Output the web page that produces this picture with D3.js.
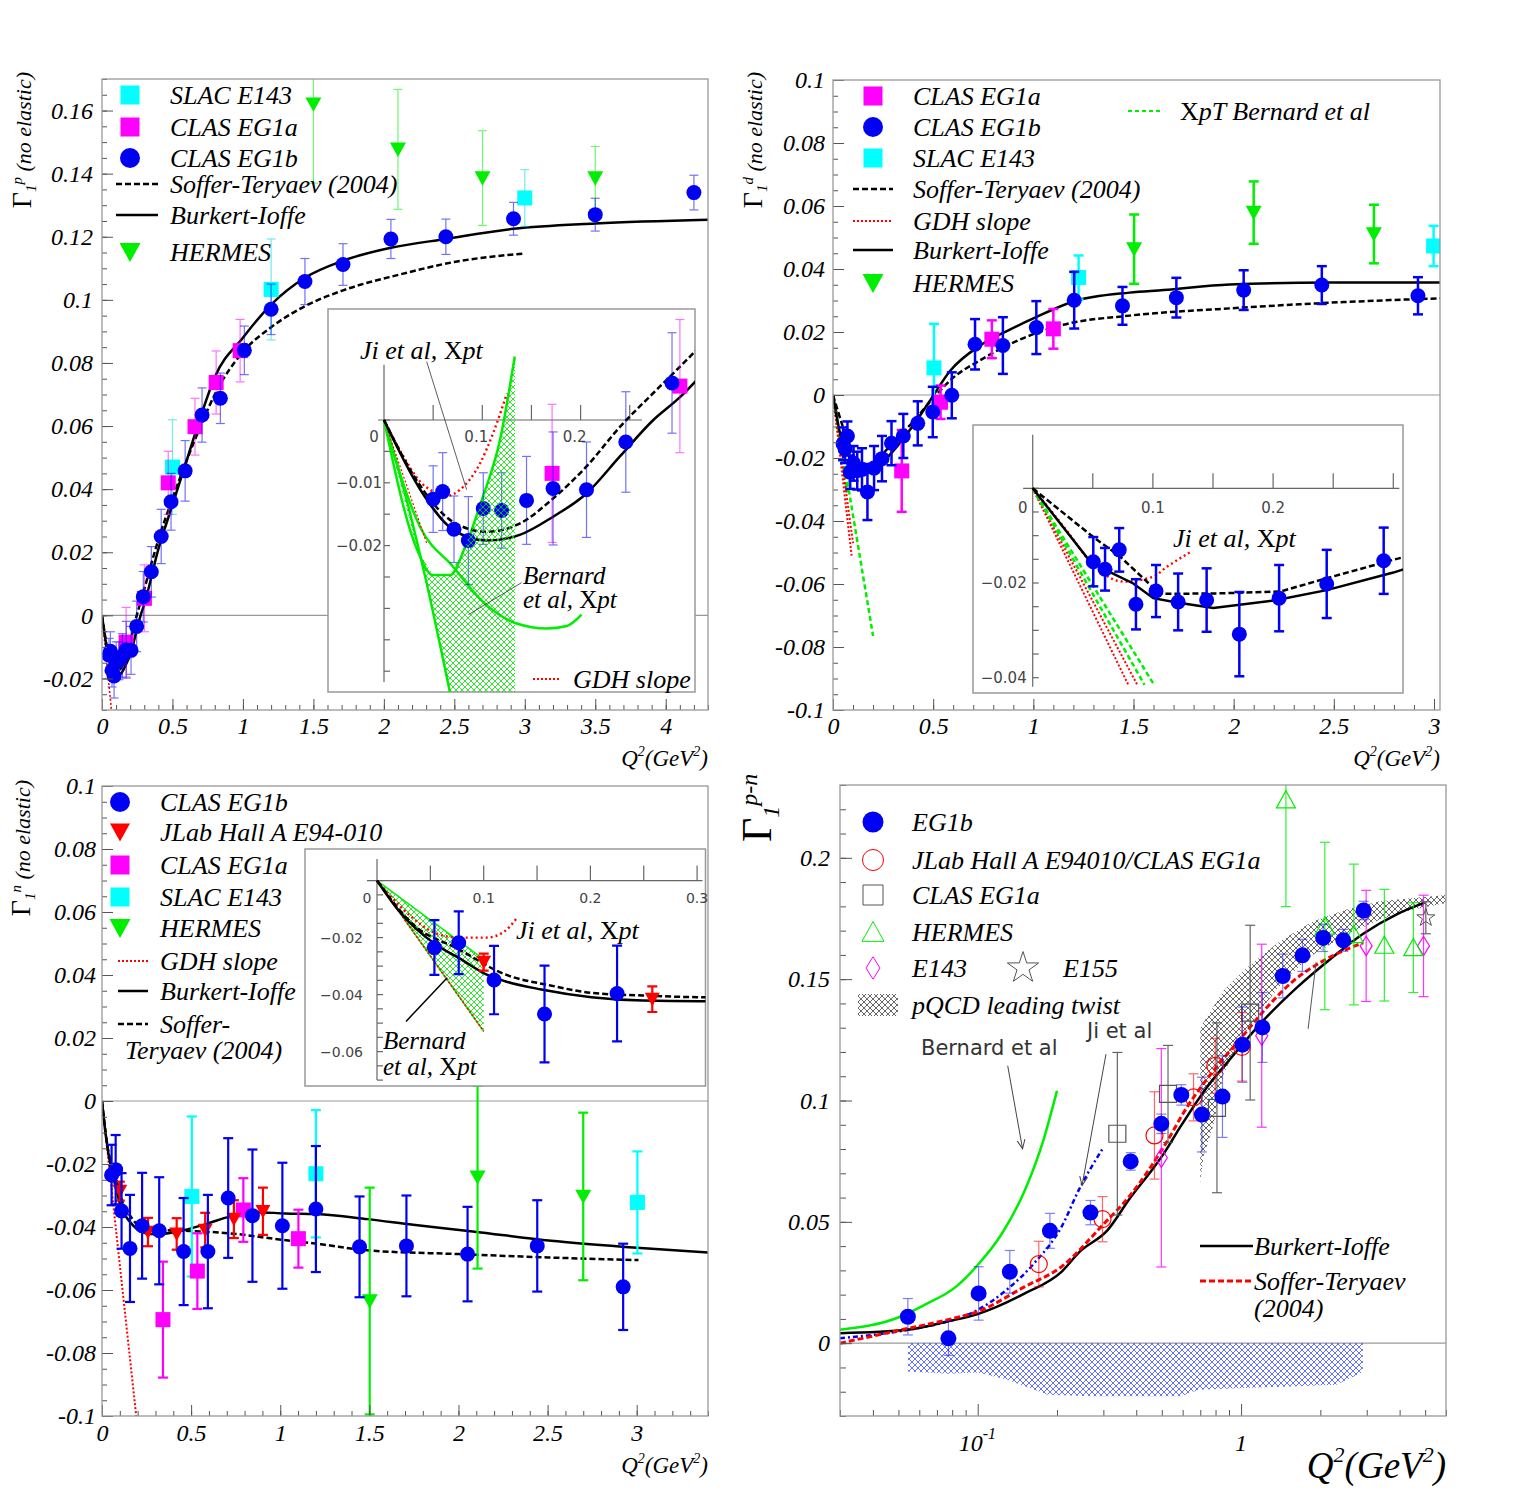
<!DOCTYPE html>
<html>
<head>
<meta charset="utf-8" />
<title>Gamma1 moments vs Q2</title>
<script src="https://d3js.org/d3.v7.min.js" charset="utf-8"></script>
<style>
  body { margin: 0; background: #fff; }
  svg text { font-family: "Liberation Serif", "Times New Roman", serif; fill: #000; }
  svg text.sans { font-family: "DejaVu Sans", "Liberation Sans", sans-serif; }
</style>
</head>
<body>
<svg id="chart" width="1525" height="1495"></svg>
<script>

// ================= data =================
// every point: [Q2 (GeV2), value, error]

// ---- proton (top left) ----
var pEG1b = [[0.050,-0.0126,0.0053],[0.0597,-0.0114,0.0062],[0.0712,-0.0174,0.0053],[0.0858,-0.0192,0.007],
  [0.101,-0.0141,0.0057],[0.1197,-0.0144,0.006],[0.145,-0.0128,0.007],[0.172,-0.0109,0.009],[0.206,-0.0111,0.0076],
  [0.246,-0.0035,0.008],[0.293,0.0059,0.008],[0.35,0.0138,0.008],[0.42,0.025,0.0086],[0.49,0.036,0.009],
  [0.59,0.0458,0.0096],[0.71,0.0635,0.0086],[0.84,0.0688,0.008],[1.01,0.084,0.0077],[1.2,0.097,0.008],
  [1.44,0.1058,0.0073],[1.71,0.1112,0.0066],[2.05,0.1193,0.0062],[2.44,0.12,0.0056],[2.92,0.1257,0.0052],
  [3.5,0.127,0.0052],[4.2,0.134,0.0055]];
var pEG1a = [[0.171,-0.0085,0.011],[0.301,0.0054,0.0106],[0.47,0.042,0.01],[0.66,0.0598,0.009],[0.81,0.0738,0.01],[0.98,0.0839,0.0099]];
var pSLAC = [[0.5,0.047,0.015],[1.2,0.1033,0.016],[3.0,0.1323,0.009]];
var pHERMES = [[1.5,0.162,0.025],[2.1,0.1477,0.019],[2.7,0.1386,0.015],[3.5,0.1386,0.010]];
var pBI = [[0,0],[0.037,-0.0111],[0.0705,-0.0175],[0.1045,-0.0192],[0.138,-0.0183],[0.172,-0.0154],[0.206,-0.0117],
  [0.24,-0.0058],[0.274,0],[0.298,0.0032],[0.4,0.021],[0.5,0.035],[0.6,0.049],[0.7,0.063],[0.8,0.0755],[1.0,0.088],
  [1.2,0.0985],[1.44,0.107],[1.71,0.1124],[2.05,0.1165],[2.44,0.1193],[2.92,0.1225],[3.5,0.1242],[4.3,0.1254]];
var pST = [[0,0],[0.0366,-0.0104],[0.070,-0.0162],[0.1045,-0.0178],[0.138,-0.0165],[0.172,-0.0125],[0.206,-0.0074],
  [0.24,-0.0011],[0.274,0.0043],[0.296,0.0077],[0.4,0.024],[0.5,0.037],[0.6,0.049],[0.7,0.06],[0.8,0.07],[1.0,0.0835],
  [1.2,0.0913],[1.44,0.098],[1.71,0.103],[2.11,0.108],[2.5,0.112],[3.0,0.1147]];
var pGDH = [[0,0],[0.067,-0.03]];
var piGDH = [[0,0],[0.0434,-0.0196]];
var pJi = [[0,0],[0.0197,-0.0058],[0.0366,-0.0098],[0.05,-0.0114],[0.0638,-0.0121],[0.0773,-0.0111],[0.0977,-0.0069],[0.111,-0.0021],[0.125,0.0042]];
var pBerUp = [[0,0],[0.033,-0.0204],[0.05,-0.0247],[0.067,-0.0247],[0.084,-0.0196],[0.1,-0.0125],[0.118,-0.0032],[0.133,0.0101]];
var pBerLow = [[0,0],[0.023,-0.0127],[0.0434,-0.026],[0.067,-0.0433]];
var pBerMid = [[0,0],[0.0366,-0.017],[0.0705,-0.0234],[0.101,-0.029],[0.135,-0.0324],[0.1655,-0.0332],[0.186,-0.0328],[0.201,-0.031]];
var pBerEdge = 0.1335;

// ---- deuteron (top right) ----
var dEG1b = [[0.0504,-0.0155,0.0052],[0.0602,-0.0171,0.0045],[0.072,-0.013,0.0046],[0.0859,-0.0245,0.0053],
  [0.1026,-0.0217,0.0055],[0.121,-0.024,0.006],[0.1447,-0.0236,0.0067],[0.1719,-0.0308,0.0089],[0.205,-0.0232,0.007],
  [0.2446,-0.0202,0.0072],[0.292,-0.0153,0.007],[0.351,-0.013,0.007],[0.423,-0.009,0.007],[0.498,-0.0054,0.008],
  [0.593,-0.0001,0.0073],[0.709,0.0161,0.008],[0.848,0.0157,0.009],[1.015,0.0214,0.0084],[1.204,0.0301,0.009],
  [1.445,0.0283,0.006],[1.714,0.0309,0.0063],[2.05,0.0333,0.0063],[2.44,0.0349,0.006],[2.92,0.0315,0.0059]];
var dEG1a = [[0.343,-0.0241,0.013],[0.537,-0.0023,0.0053],[0.793,0.0177,0.006],[1.1,0.021,0.0063]];
var dSLAC = [[0.504,0.0086,0.014],[1.226,0.0373,0.007],[2.998,0.0473,0.0064]];
var dHERMES = [[1.503,0.0463,0.011],[2.1,0.0579,0.0099],[2.7,0.0511,0.0093]];
var dBI = [[0,0],[0.0463,-0.015],[0.0643,-0.0177],[0.0837,-0.0201],[0.1003,-0.0232],[0.1198,-0.0241],[0.1503,-0.0253],
  [0.203,-0.0236],[0.2446,-0.0215],[0.3,-0.0178],[0.4,-0.0097],[0.485,-0.0017],[0.585,0.0077],[0.734,0.0157],
  [0.868,0.0203],[1.0,0.0243],[1.2,0.0297],[1.48,0.0325],[1.65,0.0333],[1.98,0.0351],[2.48,0.0357],[3.03,0.0357]];
var dST = [[0,0],[0.0504,-0.0103],[0.0726,-0.0144],[0.1059,-0.0223],[0.153,-0.0222],[0.206,-0.0218],[0.2446,-0.019],
  [0.3,-0.0151],[0.4,-0.0085],[0.5,-0.001],[0.6,0.0055],[0.734,0.011],[0.868,0.0157],[1.15,0.0223],[1.48,0.0252],
  [1.98,0.0275],[2.48,0.0293],[3.03,0.0307]];
var dGDH1 = [[0,0],[0.093,-0.051]];
var dGDH2 = [[0,0],[0.1,-0.047]];
var dBer1 = [[0,0],[0.2,-0.0765]];
var dBer2 = [[0,0],[0.07,-0.031]];
var diGDH1 = [[0,0],[0.0795,-0.0415]];
var diGDH2 = [[0,0],[0.087,-0.0415]];
var diBer1 = [[0,0],[0.101,-0.0415]];
var diBer2 = [[0,0],[0.093,-0.0415]];
var dJi = [[0,0],[0.03,-0.0095],[0.0463,-0.015],[0.0754,-0.0197],[0.1,-0.0187],[0.1115,-0.0166],[0.131,-0.0135]];

// ---- neutron (bottom left) ----
var nEG1b = [[0.0538,-0.0235,0.0096],[0.0766,-0.0218,0.011],[0.1097,-0.0349,0.012],[0.157,-0.0468,0.017],
  [0.225,-0.0396,0.0168],[0.321,-0.0412,0.017],[0.458,-0.0478,0.017],[0.594,-0.0478,0.018],[0.708,-0.0308,0.019],
  [0.844,-0.0364,0.021],[1.012,-0.0396,0.02],[1.2,-0.0343,0.02],[1.445,-0.0463,0.016],[1.708,-0.046,0.016],
  [2.051,-0.0486,0.015],[2.442,-0.046,0.0145],[2.924,-0.059,0.0137]];
var nHallA = [[0.1,-0.0286,0.003],[0.258,-0.0416,0.0045],[0.419,-0.0422,0.005],[0.579,-0.041,0.0055],[0.74,-0.0375,0.006],[0.903,-0.035,0.0075]];
var nEG1a = [[0.342,-0.0694,0.0184],[0.535,-0.054,0.012],[0.793,-0.0346,0.0101],[1.102,-0.0437,0.0092]];
var nSLAC = [[0.504,-0.0303,0.0254],[1.2,-0.0231,0.0202],[3.004,-0.0322,0.0162]];
var nHERMES = [[1.502,-0.0635,0.036],[2.107,-0.0242,0.029],[2.7,-0.0303,0.0266]];
var nBI = [[0,0],[0.02,-0.0104],[0.055,-0.0224],[0.0766,-0.0271],[0.1024,-0.0329],[0.12,-0.0353],[0.154,-0.0382],
  [0.201,-0.0409],[0.249,-0.0421],[0.303,-0.0423],[0.458,-0.041],[0.587,-0.039],[0.716,-0.0367],[0.87,-0.0353],
  [1.025,-0.0357],[1.205,-0.0359],[1.489,-0.0375],[1.746,-0.0393],[2.08,-0.0414],[2.52,-0.0444],[2.98,-0.0465],[3.41,-0.0481]];
var nST = [[0,0],[0.0336,-0.0153],[0.0766,-0.0241],[0.12,-0.0329],[0.1626,-0.0368],[0.201,-0.0394],[0.249,-0.0403],
  [0.3,-0.0409],[0.458,-0.0412],[0.716,-0.042],[0.973,-0.0438],[1.23,-0.0455],[1.489,-0.0474],[2.0,-0.0486],[2.52,-0.0497],[3.01,-0.0505]];
var nGDH = [[0,0],[0.192,-0.1]];
var nJi = [[0,0],[0.03,-0.012],[0.055,-0.0185],[0.0766,-0.02],[0.1024,-0.02],[0.12,-0.0177],[0.1303,-0.0135]];
var nBerUp = [[0,0],[0.1,-0.0276]];
var nBerLow = [[0,0],[0.1,-0.0529]];

// ---- p-n (bottom right, log Q2) ----
var pnEG1b = [[0.0543,0.0109,0.0075],[0.0774,0.002,0.007],[0.1008,0.0205,0.011],[0.1324,0.0294,0.0088],[0.188,0.0463,0.0072],
  [0.268,0.0538,0.005],[0.381,0.0749,0.0036],[0.498,0.0904,0.004],[0.593,0.1023,0.0042],[0.71,0.0942,0.0154],
  [0.85,0.1016,0.0168],[1.012,0.123,0.0155],[1.205,0.1301,0.0144],[1.44,0.1513,0.009],[1.71,0.1598,0.0066],
  [2.05,0.167,0.0056],[2.445,0.166,0.0045],[2.92,0.1783,0.0038]];
var pnHallA = [[0.1706,0.0326,0.0094],[0.2977,0.0511,0.0093],[0.469,0.0856,0.018],[0.66,0.1013,0.0097],[0.798,0.1143,0.0113],[1.007,0.1221,0.0141]];
var pnEG1a = [[0.339,0.0863,0.0335],[0.528,0.1027,0.02],[0.81,0.097,0.035],[1.083,0.1362,0.036]];
var pnHERMES = [[1.48,0.2239,0.044],[2.08,0.1719,0.0345],[2.68,0.1684,0.029],[3.5,0.164,0.023],[4.51,0.163,0.0185]];
var pnE143 = [[0.498,0.0764,0.045],[1.198,0.1267,0.0377],[2.985,0.1637,0.0229],[4.93,0.1637,0.0209]];
var pnE155 = [[5.03,0.1753,0.0066]];
var pnBI = [[0.03,0.0041],[0.0543,0.0055],[0.0765,0.0089],[0.1,0.012],[0.151,0.0205],[0.208,0.0294],[0.2435,0.0376],
  [0.3107,0.0465],[0.379,0.0598],[0.4634,0.072],[0.508,0.078],[0.587,0.089],[0.741,0.1054],[0.909,0.1171],[1.18,0.1315],
  [1.628,0.1465],[2.18,0.1582],[2.91,0.1687],[3.9,0.1767],[4.95,0.1814]];
var pnST = [[0.03,0.0],[0.0513,0.0055],[0.0765,0.0096],[0.1,0.013],[0.151,0.0233],[0.208,0.0315],[0.2977,0.0486],
  [0.379,0.0609],[0.508,0.0808],[0.623,0.0972],[0.786,0.1123],[0.992,0.1253],[1.252,0.1383],[1.58,0.1493],[1.995,0.1568],
  [2.52,0.1623],[2.91,0.165]];
var pnJi = [[0.03,0.002],[0.0543,0.0055],[0.0765,0.0089],[0.1,0.0137],[0.1285,0.0219],[0.1637,0.0329],[0.208,0.0479],[0.2435,0.0637],[0.298,0.0801]];
var pnBernard = [[0.03,0.0055],[0.0502,0.0107],[0.0626,0.0157],[0.0828,0.0233],[0.1,0.0322],[0.1236,0.0452],[0.151,0.063],[0.1774,0.0835],[0.2,0.104]];
var pqcdUp = [[0.70,0.13],[0.858,0.1452],[1.052,0.1547],[1.407,0.1657],[1.88,0.1739],[2.52,0.1787],[3.37,0.1821],[6.0,0.1847]];
var pqcdLo = [[0.70,0.066],[0.72,0.077],[0.786,0.09],[0.858,0.111],[0.992,0.1246],[1.18,0.137],[1.49,0.1506],[1.88,0.1602],
  [2.52,0.1684],[3.37,0.1746],[4.5,0.1787],[6.0,0.1814]];
var pnSys = [[0.0543,-0.0117],[0.0774,-0.0126],[0.1,-0.0121],[0.13,-0.0151],[0.1845,-0.0212],[0.273,-0.0219],[0.392,-0.0219],
  [0.59,-0.0219],[0.692,-0.0192],[1.03,-0.0185],[1.543,-0.0178],[2.3,-0.0171],[2.86,-0.0123],[2.9,-0.0118]];

// ---- ticks & labels ----
var yTicksA = [-0.02,0,0.02,0.04,0.06,0.08,0.1,0.12,0.14,0.16];
var xTicksA = [0,0.5,1,1.5,2,2.5,3,3.5,4];
var yTicksBC = [-0.1,-0.08,-0.06,-0.04,-0.02,0,0.02,0.04,0.06,0.08,0.1];
var xTicksB = [0,0.5,1,1.5,2,2.5,3];
var yTicksD = [0,0.05,0.1,0.15,0.2];
var xMinorD = [0.03,0.04,0.05,0.06,0.07,0.08,0.09,0.2,0.3,0.4,0.5,0.6,0.7,0.8,0.9,2,3,4,5,6];
var insTicksX = [0.05,0.1,0.15,0.2,0.25,0.3];
var insTicksY = [0,-0.005,-0.01,-0.015,-0.02,-0.025,-0.03,-0.035,-0.04,-0.045,-0.05,-0.055,-0.06,-0.065,-0.07];

var legLabA = ["SLAC E143","CLAS EG1a","CLAS EG1b","Soffer-Teryaev (2004)","Burkert-Ioffe","HERMES"];
var legLabB = ["CLAS EG1a","CLAS EG1b","SLAC E143","Soffer-Teryaev (2004)","GDH slope","Burkert-Ioffe","HERMES"];
var legLabC = ["CLAS EG1b","JLab Hall A E94-010","CLAS EG1a","SLAC E143","HERMES","GDH slope","Burkert-Ioffe","Soffer-","Teryaev (2004)"];
var legLabD = ["EG1b","JLab Hall A E94010/CLAS EG1a","CLAS EG1a","HERMES","E143","E155","pQCD leading twist"];

// ================= styles =================
var BLUE = "#0000f5", MAG = "#ff00ff", CYAN = "#00ffff", GREEN = "#00ee00", RED = "#ff0000";
var sBI = {c: "#000", w: 2.5};
var sST = {c: "#000", w: 2.5, d: "6,3"};
var sGDH = {c: RED, w: 1.6, d: "2,2"};
var sJi = {c: RED, w: 2.4, d: "2,3"};
var sBer = {c: GREEN, w: 2.5};
var sBerD = {c: GREEN, w: 2.5, d: "5,3"};
var sSTr = {c: RED, w: 3, d: "6,3"};
var sJiB = {c: BLUE, w: 2.5, d: "5,3,2,3"};

var mEG1b = {shape: "circle", size: 15, fill: BLUE, lsize: 20};
var mEG1a = {shape: "square", size: 15, fill: MAG, lsize: 19};
var mSLAC = {shape: "square", size: 15, fill: CYAN, lsize: 19};
var mHER = {shape: "down", size: 16, fill: GREEN, lsize: 21};
var mHallA = {shape: "down", size: 15, fill: RED, lsize: 20};

var svg = d3.select("#chart");
var defs = svg.append("defs");

function hatch(id, color, step, sw) {
  var p = defs.append("pattern").attr("id", id).attr("patternUnits", "userSpaceOnUse")
    .attr("width", step).attr("height", step);
  p.append("path").attr("d", "M0,0L" + step + "," + step + "M" + step + ",0L0," + step)
    .attr("stroke", color).attr("stroke-width", sw).attr("fill", "none");
}
hatch("hG", "#00dd00", 6, 0.8);
hatch("hK", "#000", 6, 0.6);
hatch("hB", "#2233ff", 6, 0.7);

defs.append("marker").attr("id", "arr").attr("viewBox", "0 0 10 10").attr("refX", 9).attr("refY", 5)
  .attr("markerWidth", 10).attr("markerHeight", 10).attr("orient", "auto")
  .append("path").attr("d", "M0,1L9,5L0,9").attr("fill", "none").attr("stroke", "#444");

var clipN = 0;
function clipTo(x0, y0, x1, y1) {
  var id = "clip" + (clipN++);
  defs.append("clipPath").attr("id", id).append("rect")
    .attr("x", x0).attr("y", y0).attr("width", x1 - x0).attr("height", y1 - y0);
  return "url(#" + id + ")";
}

function drawLine(g, sx, sy, pts, st, smooth) {
  var line = d3.line().x(function (d) { return sx(d[0]); }).y(function (d) { return sy(d[1]); })
    .curve(smooth ? d3.curveMonotoneX : d3.curveLinear);
  g.append("path").attr("d", line(pts)).attr("fill", "none")
    .attr("stroke", st.c).attr("stroke-width", st.w).attr("stroke-dasharray", st.d || null);
}

function shapePath(shape, s) {
  var h = s / 2;
  if (shape == "circle") return "M" + (-h) + ",0a" + h + "," + h + " 0 1,0 " + s + ",0a" + h + "," + h + " 0 1,0 " + (-s) + ",0Z";
  if (shape == "square") return "M" + (-h) + "," + (-h) + "h" + s + "v" + s + "h" + (-s) + "Z";
  if (shape == "down") return "M" + (-h) + "," + (-h * 0.85) + "L" + h + "," + (-h * 0.85) + "L0," + (h * 0.95) + "Z";
  if (shape == "up") return "M" + (-h) + "," + (h * 0.85) + "L" + h + "," + (h * 0.85) + "L0," + (-h * 0.95) + "Z";
  if (shape == "diamond") return "M0," + (-h * 1.6) + "L" + h + ",0L0," + (h * 1.6) + "L" + (-h) + ",0Z";
  if (shape == "star") return d3.symbol(d3.symbolStar, s * s * 0.45)();
}

function drawMarks(g, sx, sy, data, m) {
  g.append("g").selectAll(null).data(data).enter().append("path")
    .attr("transform", function (d) { return "translate(" + sx(d[0]) + "," + sy(d[1]) + ")"; })
    .attr("d", shapePath(m.shape, m.size))
    .attr("fill", m.fill || "none").attr("stroke", m.stroke || "none").attr("stroke-width", m.sw || 1);
}

function drawErr(g, sx, sy, data, e) {
  var eg = g.append("g").attr("stroke", e.c).attr("stroke-width", e.w).attr("opacity", e.o || 1);
  eg.selectAll(null).data(data).enter().append("line")
    .attr("x1", function (d) { return sx(d[0]); }).attr("x2", function (d) { return sx(d[0]); })
    .attr("y1", function (d) { return sy(d[1] - d[2]); }).attr("y2", function (d) { return sy(d[1] + d[2]); });
  [-1, 1].forEach(function (s) {
    eg.selectAll(null).data(data).enter().append("line")
      .attr("x1", function (d) { return sx(d[0]) - e.cap / 2; }).attr("x2", function (d) { return sx(d[0]) + e.cap / 2; })
      .attr("y1", function (d) { return sy(d[1] + s * d[2]); }).attr("y2", function (d) { return sy(d[1] + s * d[2]); });
  });
}

function series(g, sx, sy, data, m, e) {
  drawErr(g, sx, sy, data, e);
  drawMarks(g, sx, sy, data, m);
}

function fmtMain(v) { return String(+v.toFixed(3)); }
function fmtIns(v) { var s = String(+Math.abs(v).toFixed(3)); return v < 0 ? "\u2212" + s : s; }

function axisGroup(g, axis, tx, ty) {
  var a = g.append("g").attr("transform", "translate(" + tx + "," + ty + ")").call(axis);
  a.select(".domain").remove();
  a.attr("color", "#555").attr("font-size", null).attr("font-family", null);
  a.selectAll("text").style("font-size", "24px").style("font-style", "italic").style("fill", "#000");
  return a;
}

function mainAxes(g, sx, sy, o) {
  var x0 = sx.range()[0], x1 = sx.range()[1], yb = sy.range()[0], yt = sy.range()[1];
  axisGroup(g, d3.axisLeft(sy).tickValues(o.yMinor).tickSize(-5).tickFormat(""), x0, 0);
  axisGroup(g, d3.axisLeft(sy).tickValues(o.yMajor).tickSize(-11).tickPadding(o.yPad).tickFormat(fmtMain), x0, 0);
  axisGroup(g, d3.axisBottom(sx).tickValues(o.xMinor).tickSize(-5).tickFormat(""), 0, yb);
  axisGroup(g, d3.axisBottom(sx).tickValues(o.xMajor).tickSize(-11).tickPadding(o.xPad)
    .tickFormat(o.xLabels ? fmtMain : ""), 0, yb);
  g.append("rect").attr("x", x0).attr("y", yt).attr("width", x1 - x0).attr("height", yb - yt)
    .attr("fill", "none").attr("stroke", "#999").attr("stroke-width", 1.3);
}

function zeroLine(g, sx, sy) {
  g.append("line").attr("x1", sx.range()[0]).attr("x2", sx.range()[1]).attr("y1", sy(0)).attr("y2", sy(0))
    .attr("stroke", "#999").attr("stroke-width", 1.2);
}

function xTitle(x, y, fs, sup) {
  var t = svg.append("text").attr("x", x).attr("y", y).attr("text-anchor", "end")
    .style("font-size", fs + "px").style("font-style", "italic");
  t.append("tspan").text("Q");
  t.append("tspan").text("2").style("font-size", sup + "px").attr("dy", -fs * 0.42);
  t.append("tspan").text("(GeV").attr("dy", fs * 0.42);
  t.append("tspan").text("2").style("font-size", sup + "px").attr("dy", -fs * 0.42);
  t.append("tspan").text(")").attr("dy", fs * 0.42);
}

function yTitle(x, y, anchor, parts) {
  var t = svg.append("text").attr("transform", "translate(" + x + "," + y + ") rotate(-90)").attr("text-anchor", anchor);
  parts.forEach(function (p) {
    t.append("tspan").text(p[0]).style("font-size", p[1] + "px")
      .style("font-style", p[2] ? "italic" : "normal").attr("dy", p[3]);
  });
}

function drawLegend(g, items, o) {
  items.forEach(function (it) {
    if (it.m) g.append("path").attr("transform", "translate(" + (it.mx || o.mx) + "," + it.y + ")")
      .attr("d", shapePath(it.m.shape, it.m.lsize)).attr("fill", it.m.fill || "none")
      .attr("stroke", it.m.stroke || "none").attr("stroke-width", it.m.sw || 1);
    if (it.l) g.append("line").attr("x1", o.l0).attr("x2", o.l1).attr("y1", it.y).attr("y2", it.y)
      .attr("stroke", it.l.c).attr("stroke-width", it.l.w).attr("stroke-dasharray", it.l.d || null);
    if (it.p) g.append("rect").attr("x", o.l0).attr("y", it.y - 11).attr("width", o.l1 - o.l0).attr("height", 22)
      .attr("fill", "url(#" + it.p + ")");
    if (it.t) g.append("text").attr("x", it.tx || o.tx).attr("y", it.y).attr("dy", "0.35em")
      .style("font-size", o.fs + "px").style("font-style", "italic").text(it.t);
  });
}

// "Ji et al, Xpt" style label: X upright
function xptLabel(g, x, y, pre, fs) {
  var t = g.append("text").attr("x", x).attr("y", y).attr("dy", "0.35em").style("font-size", fs + "px");
  t.append("tspan").text(pre).style("font-style", "italic");
  t.append("tspan").text("X");
  t.append("tspan").text("pt").style("font-style", "italic");
}

function insetBox(x0, y0, x1, y1) {
  var g = svg.append("g");
  g.append("rect").attr("x", x0).attr("y", y0).attr("width", x1 - x0).attr("height", y1 - y0)
    .attr("fill", "#fff").attr("stroke", "#999").attr("stroke-width", 1.5);
  return g;
}

function insetAxes(g, sx, sy, o) {
  var ax = g.append("g").attr("stroke", "#666").attr("stroke-width", 1.2);
  ax.append("line").attr("x1", sx(o.xLine[0])).attr("x2", sx(o.xLine[1])).attr("y1", sy(0)).attr("y2", sy(0));
  ax.append("line").attr("x1", sx(0)).attr("x2", sx(0)).attr("y1", sy(o.yLine[0])).attr("y2", sy(o.yLine[1]));
  ax.selectAll(null).data(o.xTicks).enter().append("line")
    .attr("x1", function (d) { return sx(d); }).attr("x2", function (d) { return sx(d); })
    .attr("y1", sy(0)).attr("y2", sy(0) - 15);
  ax.selectAll(null).data(o.yTicks).enter().append("line")
    .attr("x1", sx(0)).attr("x2", sx(0) + 6)
    .attr("y1", function (d) { return sy(d); }).attr("y2", function (d) { return sy(d); });
  var lab = g.append("g");
  lab.selectAll(null).data(o.xLab).enter().append("text").attr("class", "sans")
    .attr("x", function (d) { return sx(d) + (d === 0 ? -10 : o.xdx); }).attr("y", sy(0) + o.xdy)
    .attr("dy", "0.35em").attr("text-anchor", "middle")
    .style("font-size", o.fs + "px").style("fill", "#444").text(fmtIns);
  lab.selectAll(null).data(o.yLab).enter().append("text").attr("class", "sans")
    .attr("x", sx(0) + o.ydx).attr("y", function (d) { return sy(d); })
    .attr("dy", "0.35em").attr("text-anchor", "end")
    .style("font-size", o.fs + "px").style("fill", "#444").text(fmtIns);
}

// thin pale error bars (top left / bottom right), thick ones (top right / bottom left)
function eThin(c) { return {c: c, w: 1.2, o: 0.55, cap: 9}; }
function eThick(c) { return {c: c, w: 2.5, o: 1, cap: 10}; }

// ===================================================================
// Panel A : proton
// ===================================================================
var xA = d3.scaleLinear().domain([0, 4.3]).range([102, 708]);
var yA = d3.scaleLinear().domain([-0.03, 0.17]).range([710, 79]);
var gA = svg.append("g");
var plA = gA.append("g").attr("clip-path", clipTo(102, 79, 708, 710));
zeroLine(plA, xA, yA);
drawLine(plA, xA, yA, pGDH, sGDH);
drawLine(plA, xA, yA, pST, sST, true);
drawLine(plA, xA, yA, pBI, sBI, true);
series(plA, xA, yA, pHERMES, mHER, eThin(GREEN));
series(plA, xA, yA, pSLAC, mSLAC, eThin("#00dddd"));
series(plA, xA, yA, pEG1a, mEG1a, eThin(MAG));
series(plA, xA, yA, pEG1b, mEG1b, eThin(BLUE));
mainAxes(gA, xA, yA, {yMajor: yTicksA, yMinor: d3.range(-0.03, 0.1701, 0.005), yPad: 9,
  xMajor: xTicksA, xMinor: d3.range(0, 4.31, 0.1), xPad: 7, xLabels: true});
drawLegend(gA, [
  {m: mSLAC, y: 95, t: legLabA[0]}, {m: mEG1a, y: 127, t: legLabA[1]}, {m: mEG1b, y: 158, t: legLabA[2]},
  {l: sST, y: 184, t: legLabA[3]}, {l: sBI, y: 215, t: legLabA[4]}, {m: mHER, y: 252, t: legLabA[5]}
], {mx: 130, l0: 116, l1: 158, tx: 170, fs: 26});

// inset A
var xAi = d3.scaleLinear().domain([0, 0.1]).range([384, 482.3]);
var yAi = d3.scaleLinear().domain([0, -0.01]).range([420, 482.8]);
var gAi = insetBox(328, 309, 695, 692);
insetAxes(gAi, xAi, yAi, {xLine: [-0.006, 0.2625], yLine: [0.0088, -0.0417], xTicks: insTicksX.slice(0, 5),
  yTicks: insTicksY.slice(0, 9), xLab: [0, 0.1, 0.2], yLab: [-0.01, -0.02], fs: 15, xdx: -6, xdy: 17, ydx: -2});
var plAi = gAi.append("g").attr("clip-path", clipTo(328, 309, 695, 692));
drawLine(plAi, xAi, yAi, pBerLow, sBer, true);
drawLine(plAi, xAi, yAi, pBerUp, sBer, true);
drawLine(plAi, xAi, yAi, pBerMid, sBer, true);
drawLine(plAi, xAi, yAi, piGDH, {c: RED, w: 1.2, d: "2,2"});
drawLine(plAi, xAi, yAi, pJi, sJi, true);
drawLine(plAi, xAi, yAi, pST, sST, true);
drawLine(plAi, xAi, yAi, pBI, sBI, true);
series(plAi, xAi, yAi, pEG1a, mEG1a, eThin(MAG));
series(plAi, xAi, yAi, pEG1b, mEG1b, eThin(BLUE));
// Bernard et al band: between upper and lower green curves, up to the band edge
var berPoly = pBerUp.concat([[pBerEdge, pBerUp[pBerUp.length - 1][1]], [pBerEdge, -0.05], [0.075, -0.05]])
  .concat(pBerLow.slice().reverse());
plAi.append("path").attr("d", d3.line().x(function (d) { return xAi(d[0]); }).y(function (d) { return yAi(d[1]); })(berPoly) + "Z")
  .attr("fill", "url(#hG)").attr("stroke", "none");
xptLabel(gAi, 360, 350, "Ji et al, ", 26);
gAi.append("line").attr("x1", xAi(0.0434)).attr("y1", yAi(0.0093)).attr("x2", xAi(0.0841)).attr("y2", yAi(-0.0111))
  .attr("stroke", "#333").attr("stroke-width", 0.8);
gAi.append("text").attr("x", 523).attr("y", 575).attr("dy", "0.35em").style("font-size", "25px").style("font-style", "italic").text("Bernard");
xptLabel(gAi, 523, 599, "et al, ", 25);
gAi.append("line").attr("x1", xAi(0.140)).attr("y1", yAi(-0.0259)).attr("x2", xAi(0.0858)).attr("y2", yAi(-0.031))
  .attr("stroke", "#333").attr("stroke-width", 0.8);
drawLegend(gAi, [{l: {c: RED, w: 2, d: "2,2"}, y: 679, t: "GDH slope"}], {l0: 533, l1: 560, tx: 573, fs: 26});

yTitle(31, 72, "end", [["\u0393", 28, 0, 0], ["1", 15, 1, 5], ["p", 15, 1, -14], [" (no elastic)", 22, 1, 9]]);
xTitle(708, 766, 23, 14);

// ===================================================================
// Panel B : deuteron
// ===================================================================
var xB = d3.scaleLinear().domain([0, 3.03]).range([833, 1440]);
var yB = d3.scaleLinear().domain([-0.1, 0.1]).range([710, 80]);
var gB = svg.append("g");
var plB = gB.append("g").attr("clip-path", clipTo(833, 80, 1440, 710));
zeroLine(plB, xB, yB);
drawLine(plB, xB, yB, dBer1, sBerD);
drawLine(plB, xB, yB, dBer2, sBerD);
drawLine(plB, xB, yB, dGDH1, {c: RED, w: 2, d: "2,2"});
drawLine(plB, xB, yB, dGDH2, {c: RED, w: 2, d: "2,2"});
drawLine(plB, xB, yB, dST, sST, true);
drawLine(plB, xB, yB, dBI, sBI, true);
series(plB, xB, yB, dHERMES, mHER, eThick(GREEN));
series(plB, xB, yB, dSLAC, mSLAC, eThick(CYAN));
series(plB, xB, yB, dEG1a, mEG1a, eThick(MAG));
series(plB, xB, yB, dEG1b, mEG1b, eThick(BLUE));
mainAxes(gB, xB, yB, {yMajor: yTicksBC, yMinor: d3.range(-0.1, 0.1001, 0.005), yPad: 8,
  xMajor: xTicksB, xMinor: d3.range(0, 3.031, 0.1), xPad: 7, xLabels: true});
drawLegend(gB, [
  {m: mEG1a, y: 96, t: legLabB[0]}, {m: mEG1b, y: 127, t: legLabB[1]}, {m: mSLAC, y: 158, t: legLabB[2]},
  {l: sST, y: 189, t: legLabB[3]}, {l: {c: RED, w: 2, d: "2,2"}, y: 221, t: legLabB[4]},
  {l: sBI, y: 250, t: legLabB[5]}, {m: mHER, y: 283, t: legLabB[6]}
], {mx: 873, l0: 853, l1: 893, tx: 913, fs: 26});
gB.append("line").attr("x1", 1128).attr("x2", 1163).attr("y1", 111).attr("y2", 111)
  .attr("stroke", GREEN).attr("stroke-width", 2).attr("stroke-dasharray", "4,3");
var tXp = gB.append("text").attr("x", 1180).attr("y", 111).attr("dy", "0.35em").style("font-size", "26px");
tXp.append("tspan").text("X");
tXp.append("tspan").text("pT Bernard et al").style("font-style", "italic");

// inset B
var xBi = d3.scaleLinear().domain([0, 0.1]).range([1032.7, 1152.9]);
var yBi = d3.scaleLinear().domain([0, -0.02]).range([488.3, 583]);
var gBi = insetBox(973, 425, 1403, 693);
insetAxes(gBi, xBi, yBi, {xLine: [-0.008, 0.305], yLine: [0.0113, -0.0419], xTicks: insTicksX,
  yTicks: insTicksY.slice(0, 9), xLab: [0, 0.1, 0.2], yLab: [-0.02, -0.04], fs: 15, xdx: 0, xdy: 19, ydx: -6});
var plBi = gBi.append("g").attr("clip-path", clipTo(973, 425, 1403, 693));
drawLine(plBi, xBi, yBi, diGDH1, {c: RED, w: 2, d: "2,2"});
drawLine(plBi, xBi, yBi, diGDH2, {c: RED, w: 2, d: "2,2"});
drawLine(plBi, xBi, yBi, diBer1, sBerD);
drawLine(plBi, xBi, yBi, diBer2, sBerD);
drawLine(plBi, xBi, yBi, dJi, sJi, true);
drawLine(plBi, xBi, yBi, dST, sST);
drawLine(plBi, xBi, yBi, dBI, sBI);
series(plBi, xBi, yBi, dEG1b, mEG1b, eThick(BLUE));
xptLabel(gBi, 1173, 538, "Ji et al, ", 26);

yTitle(762, 72, "end", [["\u0393", 28, 0, 0], ["1", 15, 1, 5], ["d", 15, 1, -14], [" (no elastic)", 22, 1, 9]]);
xTitle(1440, 766, 23, 14);

// ===================================================================
// Panel C : neutron
// ===================================================================
var xC = d3.scaleLinear().domain([0, 3.4]).range([102, 708]);
var yC = d3.scaleLinear().domain([-0.1, 0.1]).range([1416, 786]);
var gC = svg.append("g");
var plC = gC.append("g").attr("clip-path", clipTo(102, 786, 708, 1416));
zeroLine(plC, xC, yC);
drawLine(plC, xC, yC, nGDH, {c: RED, w: 2, d: "2,2"});
drawLine(plC, xC, yC, nST, sST, true);
drawLine(plC, xC, yC, nBI, sBI, true);
var eC = function (c) { return {c: c, w: 2.2, o: 1, cap: 10}; };
series(plC, xC, yC, nHERMES, mHER, eC(GREEN));
series(plC, xC, yC, nSLAC, mSLAC, eC(CYAN));
series(plC, xC, yC, nEG1a, mEG1a, eC(MAG));
series(plC, xC, yC, nHallA, mHallA, eC(RED));
series(plC, xC, yC, nEG1b, mEG1b, eC(BLUE));
mainAxes(gC, xC, yC, {yMajor: yTicksBC, yMinor: d3.range(-0.1, 0.1001, 0.005), yPad: 6,
  xMajor: xTicksB, xMinor: d3.range(0, 3.41, 0.1), xPad: 8, xLabels: true});
drawLegend(gC, [
  {m: mEG1b, y: 802, t: legLabC[0]}, {m: mHallA, y: 832, t: legLabC[1]}, {m: mEG1a, y: 865, t: legLabC[2]},
  {m: mSLAC, y: 897, t: legLabC[3]}, {m: mHER, y: 928, t: legLabC[4]}, {l: {c: RED, w: 2, d: "2,2"}, y: 961, t: legLabC[5]},
  {l: sBI, y: 991, t: legLabC[6]}, {l: sST, y: 1024, t: legLabC[7]}, {y: 1050, tx: 125, t: legLabC[8]}
], {mx: 120, l0: 118, l1: 148, tx: 160, fs: 26});

// inset C
var xCi = d3.scaleLinear().domain([0, 0.1]).range([377, 483.7]);
var yCi = d3.scaleLinear().domain([0, -0.02]).range([880.6, 937.6]);
var gCi = insetBox(305, 849, 705.5, 1086);
insetAxes(gCi, xCi, yCi, {xLine: [-0.0094, 0.305], yLine: [0.0076, -0.07], xTicks: insTicksX,
  yTicks: insTicksY, xLab: [0, 0.1, 0.2, 0.3], yLab: [-0.02, -0.04, -0.06], fs: 14, xdx: 0, xdy: 17, ydx: -14});
var plCi = gCi.append("g").attr("clip-path", clipTo(305, 849, 705.5, 1086));
var nBerPoly = nBerUp.concat(nBerLow.slice().reverse());
plCi.append("path").attr("d", d3.line().x(function (d) { return xCi(d[0]); }).y(function (d) { return yCi(d[1]); })(nBerPoly) + "Z")
  .attr("fill", "url(#hG)").attr("stroke", "none");
drawLine(plCi, xCi, yCi, nBerUp, {c: GREEN, w: 1.5});
drawLine(plCi, xCi, yCi, nBerLow, {c: GREEN, w: 1.5});
drawLine(plCi, xCi, yCi, nBerLow, {c: RED, w: 1.6, d: "2,2"});
drawLine(plCi, xCi, yCi, nJi, sJi, true);
drawLine(plCi, xCi, yCi, nST, sST, true);
drawLine(plCi, xCi, yCi, nBI, sBI, true);
series(plCi, xCi, yCi, nHallA, mHallA, eC(RED));
series(plCi, xCi, yCi, nEG1b, mEG1b, eC(BLUE));
xptLabel(gCi, 516, 930, "Ji et al, ", 26);
gCi.append("text").attr("x", 383).attr("y", 1040).attr("dy", "0.35em").style("font-size", "25px").style("font-style", "italic").text("Bernard");
xptLabel(gCi, 383, 1066, "et al, ", 25);
gCi.append("line").attr("x1", xCi(0.0272)).attr("y1", yCi(-0.0494)).attr("x2", xCi(0.0658)).attr("y2", yCi(-0.0341))
  .attr("stroke", "#000").attr("stroke-width", 1.5);

yTitle(30, 780, "end", [["\u0393", 28, 0, 0], ["1", 15, 1, 5], ["n", 15, 1, -14], [" (no elastic)", 22, 1, 9]]);
xTitle(708, 1473, 23, 14);

// ===================================================================
// Panel D : p - n, log Q2
// ===================================================================
var xD = d3.scaleLog().domain([0.03, 6]).range([840, 1446]);
var yD = d3.scaleLinear().domain([-0.03, 0.23]).range([1416, 785]);
var gD = svg.append("g");
var plD = gD.append("g").attr("clip-path", clipTo(840, 785, 1446, 1416));
zeroLine(plD, xD, yD);
plD.append("path").datum(pnSys)
  .attr("d", d3.area().x(function (d) { return xD(d[0]); }).y0(yD(0)).y1(function (d) { return yD(d[1]); }))
  .attr("fill", "url(#hB)");
var lineD = d3.line().x(function (d) { return xD(d[0]); }).y(function (d) { return yD(d[1]); });
plD.append("path").attr("d", lineD(pqcdUp.concat(pqcdLo.slice().reverse())) + "Z").attr("fill", "url(#hK)");
drawLine(plD, xD, yD, pnBernard, sBer, true);
drawLine(plD, xD, yD, pnJi, sJiB, true);
drawLine(plD, xD, yD, pnBI, sBI, true);
drawLine(plD, xD, yD, pnST, sSTr, true);
var eD = function (c, o) { return {c: c, w: 1.2, o: o, cap: 10}; };
series(plD, xD, yD, pnE143, {shape: "diamond", size: 12, stroke: MAG, sw: 1.2}, eD(MAG, 0.8));
series(plD, xD, yD, pnHERMES, {shape: "up", size: 19, stroke: GREEN, sw: 1.2}, eD(GREEN, 0.8));
series(plD, xD, yD, pnEG1a, {shape: "square", size: 17, stroke: "#555", sw: 1.2}, eD("#555", 0.9));
series(plD, xD, yD, pnE155, {shape: "star", size: 15, stroke: "#555", sw: 1}, eD("#555", 0.9));
series(plD, xD, yD, pnHallA, {shape: "circle", size: 17, stroke: RED, sw: 1.2}, eD(RED, 0.6));
series(plD, xD, yD, pnEG1b, {shape: "circle", size: 16, fill: BLUE}, eD(BLUE, 0.5));

// annotations
gD.append("line").attr("x1", xD(1.797)).attr("y1", yD(0.1295)).attr("x2", xD(1.927)).attr("y2", yD(0.157))
  .attr("stroke", "#555").attr("stroke-width", 1);
gD.append("line").attr("x1", xD(0.130)).attr("y1", yD(0.1143)).attr("x2", xD(0.148)).attr("y2", yD(0.0801))
  .attr("stroke", "#444").attr("stroke-width", 1).attr("marker-end", "url(#arr)");
gD.append("line").attr("x1", xD(0.307)).attr("y1", yD(0.1191)).attr("x2", xD(0.249)).attr("y2", yD(0.065))
  .attr("stroke", "#444").attr("stroke-width", 1).attr("marker-end", "url(#arr)");
gD.append("text").attr("class", "sans").attr("x", 921).attr("y", 1048).attr("dy", "0.35em")
  .style("font-size", "21px").style("fill", "#333").text("Bernard et al");
gD.append("text").attr("class", "sans").attr("x", 1087).attr("y", 1031).attr("dy", "0.35em")
  .style("font-size", "21px").style("fill", "#333").text("Ji et al");

var dMinorY = d3.range(-0.03, 0.2301, 0.01);
axisGroup(gD, d3.axisLeft(yD).tickValues(dMinorY).tickSize(-6).tickFormat(""), 840, 0);
axisGroup(gD, d3.axisLeft(yD).tickValues(yTicksD).tickSize(-12).tickPadding(10).tickFormat(fmtMain), 840, 0);
axisGroup(gD, d3.axisBottom(xD).tickValues(xMinorD).tickSize(-6).tickFormat(""), 0, 1416);
axisGroup(gD, d3.axisBottom(xD).tickValues([0.1, 1]).tickSize(-12).tickFormat(""), 0, 1416);
gD.append("rect").attr("x", 840).attr("y", 785).attr("width", 606).attr("height", 631)
  .attr("fill", "none").attr("stroke", "#999").attr("stroke-width", 1.3);
var t10 = gD.append("text").attr("x", xD(0.1) - 19).attr("y", 1451).style("font-size", "24px").style("font-style", "italic");
t10.append("tspan").text("10");
t10.append("tspan").text("-1").style("font-size", "16px").attr("dy", -12);
gD.append("text").attr("x", xD(1)).attr("y", 1451).attr("text-anchor", "middle")
  .style("font-size", "24px").style("font-style", "italic").text("1");

drawLegend(gD, [
  {m: {shape: "circle", fill: BLUE, lsize: 21}, y: 822, t: legLabD[0]},
  {m: {shape: "circle", stroke: RED, lsize: 21}, y: 860, t: legLabD[1]},
  {m: {shape: "square", stroke: "#555", lsize: 20}, y: 895, t: legLabD[2]},
  {m: {shape: "up", stroke: GREEN, lsize: 22}, y: 932, t: legLabD[3]},
  {m: {shape: "diamond", stroke: MAG, lsize: 14}, y: 968, t: legLabD[4]},
  {m: {shape: "star", stroke: "#555", lsize: 26}, mx: 1023, y: 968, tx: 1063, t: legLabD[5]},
  {p: "hK", y: 1005, t: legLabD[6]}
], {mx: 873, l0: 858, l1: 898, tx: 912, fs: 26});
drawLegend(gD, [{l: sBI, y: 1246, t: "Burkert-Ioffe"}, {l: sSTr, y: 1281, t: "Soffer-Teryaev"}, {y: 1308, t: "(2004)"}],
  {l0: 1200, l1: 1253, tx: 1254, fs: 26});

yTitle(771, 842, "start", [["\u0393", 42, 0, 0], ["1", 24, 1, 8], ["p-n", 24, 1, -22]]);
xTitle(1446, 1478, 37, 22);

</script>
</body>
</html>
